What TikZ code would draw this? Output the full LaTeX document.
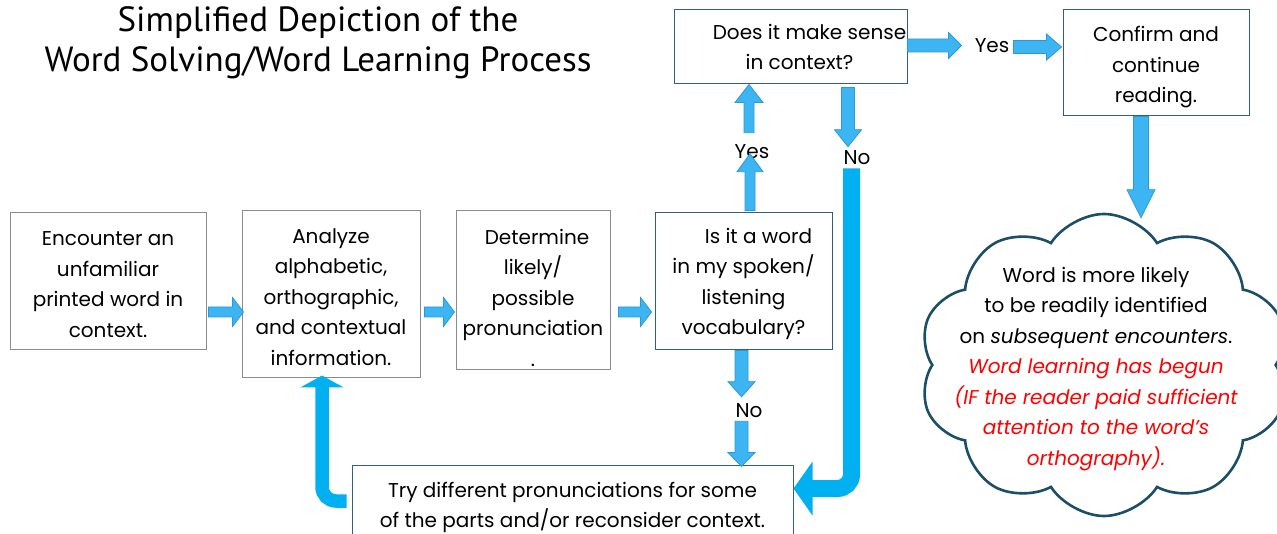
\documentclass[tikz,border=0pt]{standalone}
\usepackage{fontspec}
\setmainfont{Poppins}
\newfontfamily\titlefont{PT Sans}
\usetikzlibrary{calc,shapes.symbols,arrows.meta}
\definecolor{graybox}{HTML}{8C8C8C}
\definecolor{tealbox}{HTML}{31607E}
\definecolor{cloudcol}{HTML}{1D4E68}
\definecolor{afill}{HTML}{3DB5F2}
\definecolor{aline}{HTML}{2A9AD6}
\definecolor{thick}{HTML}{00B0F0}
\newcommand\blockarrow[5]{%
  \path[blockarr] let \p1=(#1), \p2=(#2),
    \n1={atan2(\y2-\y1,\x2-\x1)}, \n2={veclen(\x2-\x1,\y2-\y1)} in
    [shift={(\p1)}, rotate=\n1]
    (0,-#3) -- ({\n2-#5},-#3) -- ({\n2-#5},-#4) -- (\n2,0) --
    ({\n2-#5},#4) -- ({\n2-#5},#3) -- (0,#3) -- cycle;}
\newcommand\tallfirst[1]{\rule{0pt}{#1}}
\begin{document}
\begin{tikzpicture}[x=1pt,y=1pt,
  txt/.style={font=\fontsize{20}{30.5}\selectfont, align=center},
  boxg/.style={txt, draw=graybox, line width=1, inner sep=0, fill=white},
  boxt/.style={txt, draw=tealbox, line width=1, inner sep=0, fill=white},
  lab/.style={font=\fontsize{20}{24}\selectfont, inner sep=0},
  blockarr/.style={fill=afill, draw=aline, line width=0.8},
  thickarr/.style={draw=thick, rounded corners=14}]
\useasboundingbox (0,0) rectangle (1277,-534);
% title
\node[font=\titlefont\fontsize{35}{40}\selectfont, align=center] (title) at (318,-43)
  {Simplified Depiction of the\\Word Solving/Word Learning Process};
% boxes
\node[boxg, minimum width=196, minimum height=137] (b1) at (108,-281.5)
  {\tallfirst{20pt}Encounter an\\unfamiliar\\printed word in\\context.};
\node[boxg, minimum width=178, minimum height=167] (b2) at (331,-294.5)
  {\tallfirst{20pt}Analyze\\alphabetic,\\orthographic,\\and contextual\\information.};
\node[boxg, minimum width=154, minimum height=159] (b3) at (533,-290.5)
  {\tallfirst{30pt}\hspace*{8pt}Determine\\likely/\\possible\\pronunciation\\.};
\node[boxt, minimum width=177, minimum height=137] (b4) at (743.5,-281.5)
  {\tallfirst{20pt}\hspace*{30pt}Is it a word\\in my spoken/\\listening\\vocabulary?};
\node[boxt, minimum width=233, minimum height=74] (q2) at (790.5,-47)
  {\hspace*{38pt}Does it make sense\\\hspace*{18pt}in context?};
\node[boxt, minimum width=186, minimum height=106] (conf) at (1156,-63)
  {\tallfirst{24pt}Confirm and\\continue\\reading.};
\node[boxt, minimum width=441, minimum height=85] (try) at (572.5,-507.5)
  {Try different pronunciations for some\\of the parts and/or reconsider context.};
% cloud
\node[cloud, cloud puffs=10, cloud puff arc=115, draw=cloudcol, line width=2.6,
  fill=white, minimum width=370, minimum height=302, inner sep=0] (cl) at (1104,-365) {};
\node[txt] (cltext) at (1096,-369)
  {Word is more likely\\to be readily identified\\on \textit{subsequent encounters}.\\
   \color{red}\itshape Word learning has begun\\\color{red}\itshape(IF the reader paid sufficient\\
   \color{red}\itshape attention to the word's\\\color{red}\itshape orthography).};
% labels
\node[lab] (yes1) at (752,-152) {Yes};
\node[lab] (no1) at (857,-158) {No};
\node[lab] (no2) at (749,-411) {No};
\node[lab] (yes2) at (992,-46) {Yes};
% arrow coordinates
\coordinate (row) at (0,-312);
\coordinate (a1s) at ([xshift=2]b1.east |- row);
\coordinate (a1e) at ([xshift=2]b2.west |- row);
\coordinate (a2s) at ([xshift=4]b2.east |- row);
\coordinate (a2e) at ([xshift=-1]b3.west |- row);
\coordinate (a3s) at ([xshift=8]b3.east |- row);
\coordinate (a3e) at ([xshift=-3]b4.west |- row);
\coordinate (u1s) at ([xshift=6.5,yshift=2]b4.north);
\coordinate (u1e) at ([yshift=-9]yes1.north -| u1s);
\coordinate (u2s) at ([xshift=-3,yshift=12]yes1.north);
\coordinate (u2e) at ([xshift=-41.5]q2.south);
\coordinate (d1s) at ([xshift=57.5,yshift=-3]q2.south);
\coordinate (d1e) at ([yshift=4]no1.north -| d1s);
\coordinate (tks) at ([xshift=-5.5,yshift=-3]no1.south);
\coordinate (tke) at (try.east |- 0,-488.5);
\coordinate (d2s) at ([xshift=-2]b4.south);
\coordinate (d2e) at ([yshift=7]no2.north -| d2s);
\coordinate (d3s) at ([yshift=-3]no2.south -| d2s);
\coordinate (d3e) at ([yshift=-2]try.north -| d2s);
\coordinate (tls) at ([xshift=-5]try.west |- 0,-501);
\coordinate (tle) at ([xshift=-9, yshift=3]b2.south);
\coordinate (r1s) at ([yshift=1.5]q2.east);
\coordinate (r1e) at ([xshift=-13]yes2.west |- r1s);
\coordinate (r2s) at ([xshift=4]yes2.east |- 0,-47);
\coordinate (r2e) at ([xshift=-1]conf.west |- r2s);
\coordinate (cds) at ([xshift=-15]conf.south);
\coordinate (cde) at ([xshift=-15, yshift=-5]cl.north -| conf.south);
% block arrows
\blockarrow{a1s}{a1e}{5}{14.5}{11}
\blockarrow{a2s}{a2e}{5}{14.5}{11}
\blockarrow{a3s}{a3e}{5}{14.5}{11}
\blockarrow{u1s}{u1e}{5}{13}{18}
\blockarrow{u2s}{u2e}{5}{14}{18}
\blockarrow{d1s}{d1e}{6.5}{13.5}{17}
\blockarrow{d2s}{d2e}{6.5}{13.5}{15}
\blockarrow{d3s}{d3e}{6.5}{13.5}{14}
\blockarrow{r1s}{r1e}{6.5}{13}{13}
\blockarrow{r2s}{r2e}{6.5}{13}{15}
\blockarrow{cds}{cde}{7.5}{14}{28}
% thick curved arrows
\draw[thickarr, line width=17, -{Triangle[width=53pt,length=19pt]}] (tks) |- (tke);
\draw[thickarr, line width=13.5, -{Triangle[width=43pt,length=12pt]}] (tls) -| (tle);
\end{tikzpicture}
\end{document}
